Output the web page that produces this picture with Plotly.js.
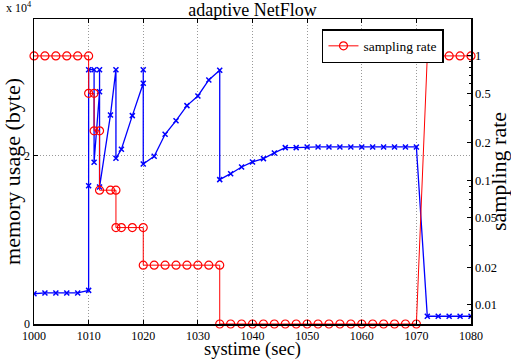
<!DOCTYPE html>
<html>
<head>
<meta charset="utf-8">
<script src="https://cdn.plot.ly/plotly-3.0.1.min.js"></script>
<style>html,body{margin:0;padding:0;background:#fff;}#chart{width:511px;height:360px;}</style>
</head>
<body>
<div id="chart"></div>
<script>
// memory usage (byte) vs systime (sec)
var memTime = [1000,1002,1004,1006,1008,1010,1010,1010,1011,1011,1012,1012,1012,1014,1015,1015,1016,1018,1020,1020,1020,1022,1024,1026,1028,1030,1032,1034,1034,1036,1038,1040,1042,1044,1046,1048,1050,1052,1054,1056,1058,1060,1062,1064,1066,1068,1070,1072,1074,1076,1078,1080];
var memUsage = [3600,3700,3700,3700,3700,4000,16460,30270,30270,19250,27650,30270,16300,24880,30270,19720,20800,24800,28650,30270,19050,19960,22580,24200,25990,27140,29050,30200,17180,17890,18690,19290,19680,20360,20990,20990,21070,21070,21070,21070,21070,21070,21070,21070,21070,21070,21070,920,920,920,920,920];

// sampling rate vs systime (sec)
var rateTime = [1000,1002,1004,1006,1008,1010,1010,1011,1011,1012,1012,1014,1015,1015,1016,1018,1020,1020,1022,1024,1026,1028,1030,1032,1034,1034,1036,1038,1040,1042,1044,1046,1048,1050,1052,1054,1056,1058,1060,1062,1064,1066,1068,1070,1072,1074,1076,1078,1080];
var rateValue = [1,1,1,1,1,1,0.5,0.5,0.25,0.25,0.0833,0.0833,0.0833,0.0417,0.0417,0.0417,0.0417,0.0208,0.0208,0.0208,0.0208,0.0208,0.0208,0.0208,0.0208,0.007,0.007,0.007,0.007,0.007,0.007,0.007,0.007,0.007,0.007,0.007,0.007,0.007,0.007,0.007,0.007,0.007,0.007,0.007,1,1,1,1,1];

var xTicks = [1000,1010,1020,1030,1040,1050,1060,1070,1080];
var memTickVals = [0,20000];
var memTickText = ['0','2'];
var rateTickVals = [0.01,0.02,0.05,0.1,0.2,0.5,1];
var rateTickText = ['0.01','0.02','0.05','0.1','0.2','0.5','1'];
var rateMinorVals = [0.008,0.009,0.03,0.04,0.06,0.07,0.08,0.09,0.3,0.4,0.6,0.7,0.8,0.9,2];

var serif = 'Liberation Serif, Times New Roman, serif';

var traces = [
  {
    x: memTime, y: memUsage, yaxis: 'y', type: 'scatter', mode: 'lines+markers',
    name: 'memory usage', showlegend: false,
    line: {color: '#0000ff', width: 1.3},
    marker: {symbol: 'x-thin-open', size: 5, color: '#0000ff', line: {color: '#0000ff', width: 1.5}}
  },
  {
    x: rateTime, y: rateValue, yaxis: 'y2', type: 'scatter', mode: 'lines+markers',
    name: 'sampling rate', cliponaxis: false,
    line: {color: '#ff0000', width: 1},
    marker: {symbol: 'circle-open', size: 8, color: '#ff0000', line: {color: '#ff0000', width: 1.2}}
  }
];

var layout = {
  width: 511, height: 360,
  margin: {l: 34, r: 40, t: 19, b: 36, pad: 0},
  paper_bgcolor: '#ffffff', plot_bgcolor: '#ffffff',
  font: {family: serif, color: '#000000', size: 13},
  title: {text: 'adaptive NetFlow', font: {family: serif, size: 18, color: '#000'}, x: 0.494, xanchor: 'center', yref: 'container', y: 0.972, yanchor: 'middle'},
  xaxis: {
    range: [1000, 1080], tickmode: 'array', tickvals: xTicks, ticktext: xTicks.map(String),
    showline: true, linecolor: '#000', linewidth: 1.5, mirror: 'ticks',
    ticks: 'inside', ticklen: 4, tickcolor: '#000', tickwidth: 1,
    showgrid: true, gridcolor: '#999', griddash: '1px,2px', gridwidth: 1, zeroline: false,
    tickfont: {family: serif, size: 12},
    title: {text: 'systime (sec)', font: {family: serif, size: 18.5}, standoff: 1},
    automargin: false
  },
  yaxis: {
    range: [0, 36300], tickmode: 'array', tickvals: memTickVals, ticktext: memTickText,
    showline: true, linecolor: '#000', linewidth: 1.5,
    ticks: 'inside', ticklen: 4, tickcolor: '#000',
    showgrid: true, gridcolor: '#999', griddash: '1px,2px', gridwidth: 1, zeroline: false,
    tickfont: {family: serif, size: 12},
    title: {text: 'memory usage (byte)', font: {family: serif, size: 22}, standoff: 2},
    automargin: false
  },
  yaxis2: {
    type: 'log', range: [Math.log10(0.007), Math.log10(1.98)], overlaying: 'y', side: 'right',
    tickmode: 'array', tickvals: rateTickVals, ticktext: rateTickText,
    showline: true, linecolor: '#000', linewidth: 1.5,
    ticks: 'inside', ticklen: 4, tickcolor: '#000',
    minor: {tickmode: 'array', tickvals: rateMinorVals, ticks: 'inside', ticklen: 2, tickcolor: '#000', showgrid: false},
    showgrid: false, zeroline: false,
    tickfont: {family: serif, size: 12.5},
    title: {text: 'sampling rate', font: {family: serif, size: 22}, standoff: 0},
    automargin: false
  },
  legend: {
    x: 0.659, y: 0.967, xanchor: 'left', yanchor: 'top',
    bgcolor: '#ffffff', bordercolor: '#000', borderwidth: 1.5,
    font: {family: serif, size: 13.5}, itemwidth: 30, tracegroupgap: 0
  },
  annotations: [
    {text: 'x 10<sup>4</sup>', xref: 'paper', yref: 'paper', x: -0.068, y: 1.006, xanchor: 'left', yanchor: 'bottom', showarrow: false, font: {family: serif, size: 12}}
  ]
};

Plotly.newPlot('chart', traces, layout, {displayModeBar: false, staticPlot: true});
</script>
</body>
</html>
